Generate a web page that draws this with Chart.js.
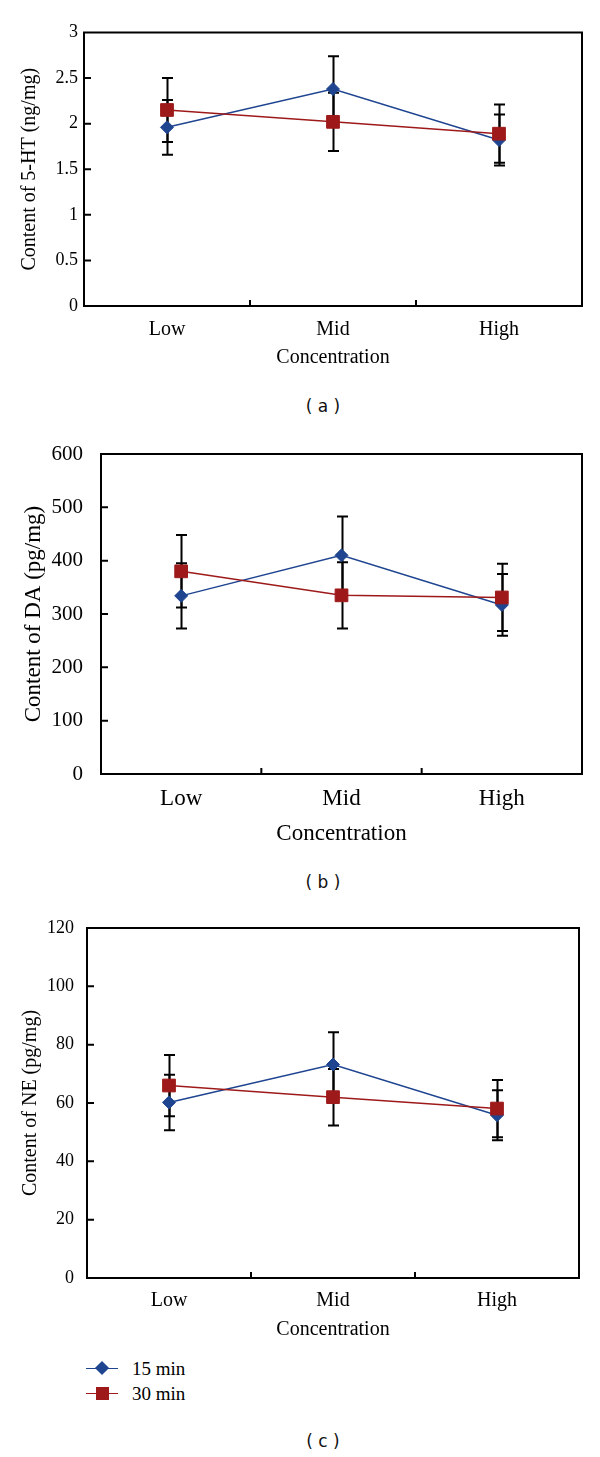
<!DOCTYPE html>
<html>
<head>
<meta charset="utf-8">
<script src="https://cdn.jsdelivr.net/npm/chart.js@4.4.0/dist/chart.umd.min.js"></script>
<style>
  body { margin: 0; background: #fff; }
  #page { position: relative; width: 600px; height: 1457px; background: #fff; }
  canvas { position: absolute; left: 0; }
  .cap { position: absolute; left: 0; width: 646px; text-align: center; font-family: "DejaVu Sans", sans-serif; font-size: 17px; color: #111; line-height: 20px; }
  .leg { position: absolute; left: 86px; height: 20px; font-family: "Liberation Serif", serif; font-size: 19px; line-height: 20px; color: #000; }
  .leg .ln { position: absolute; left: 0; top: 9px; width: 32px; height: 0; border-top: 1.5px solid; }
  .leg .mk { position: absolute; }
  .leg .tx { position: absolute; left: 46px; top: 0; white-space: nowrap; }
</style>
</head>
<body>
<div id="page">
  <canvas id="chartA" width="600" height="380" style="top:0px"></canvas>
  <div class="cap" style="top:396px">( a )</div>
  <canvas id="chartB" width="600" height="440" style="top:420px"></canvas>
  <div class="cap" style="top:872px">( b )</div>
  <canvas id="chartC" width="600" height="470" style="top:880px"></canvas>
  <div id="legend"></div>
  <div class="cap" style="top:1431px">( c )</div>
</div>
<script>
const categories = ['Low', 'Mid', 'High']
const series = ['15 min', '30 min']

// (a) 5-HT, ng/mg
const ht15 = [1.96, 2.38, 1.82]
const ht15Err = [0.30, 0.36, 0.28]
const ht30 = [2.15, 2.02, 1.89]
const ht30Err = [0.35, 0.32, 0.32]
const htTicks = [0, 0.5, 1, 1.5, 2, 2.5, 3]

// (b) DA, pg/mg
const da15 = [334, 410, 317]
const da15Err = [61, 73, 58]
const da30 = [380, 335, 331]
const da30Err = [68, 62, 63]
const daTicks = [0, 100, 200, 300, 400, 500, 600]

// (c) NE, pg/mg
const ne15 = [60.2, 73.2, 55.8]
const ne15Err = [9.5, 11.1, 8.6]
const ne30 = [66.0, 62.0, 58.1]
const ne30Err = [10.5, 9.7, 9.8]
const neTicks = [0, 20, 40, 60, 80, 100, 120]

const BLUE = '#1f4590'
const RED = '#9e1a1a'
const SERIF = '"Liberation Serif", "Times New Roman", serif'

// error bars under the markers
const errorBars = {
  id: 'errorBars',
  beforeDatasetsDraw(chart) {
    const ctx = chart.ctx
    const xs = chart.scales.x
    const ys = chart.scales.y
    ctx.save()
    ctx.strokeStyle = '#000'
    ctx.lineWidth = 2
    chart.data.datasets.forEach(ds => {
      ds.data.forEach((v, i) => {
        const px = Math.round(xs.getPixelForValue(i)) + 0.5
        const top = ys.getPixelForValue(v + ds.errors[i])
        const bot = ys.getPixelForValue(v - ds.errors[i])
        ctx.beginPath()
        ctx.moveTo(px, top); ctx.lineTo(px, bot)
        ctx.moveTo(px - 5.5, top); ctx.lineTo(px + 5.5, top)
        ctx.moveTo(px - 5.5, bot); ctx.lineTo(px + 5.5, bot)
        ctx.stroke()
      })
    })
    ctx.restore()
  }
}

// box round the plot and short ticks pointing inward
const frame = {
  id: 'frame',
  afterDatasetsDraw(chart) {
    const ctx = chart.ctx
    const a = chart.chartArea
    const xs = chart.scales.x
    const ys = chart.scales.y
    ctx.save()
    ctx.strokeStyle = '#000'
    ctx.lineWidth = 2
    ctx.strokeRect(a.left, a.top, a.right - a.left, a.bottom - a.top)
    ctx.beginPath()
    ys.ticks.forEach(t => {
      const py = ys.getPixelForValue(t.value)
      if (py <= a.top + 1 || py >= a.bottom - 1) return
      ctx.moveTo(a.left, py); ctx.lineTo(a.left + 7, py)
    })
    for (let i = 0; i < categories.length - 1; i++) {
      const px = (xs.getPixelForValue(i) + xs.getPixelForValue(i + 1)) / 2
      ctx.moveTo(px, a.bottom); ctx.lineTo(px, a.bottom - 6)
    }
    ctx.stroke()
    ctx.restore()
  }
}

function makeChart(id, d15, e15, d30, e30, yTicks, yTitle, lay) {
  const ctx = document.getElementById(id)
  return new Chart(ctx, {
    type: 'line',
    data: {
      labels: categories,
      datasets: [{
        label: series[0],
        data: d15,
        errors: e15,
        borderColor: BLUE,
        backgroundColor: BLUE,
        borderWidth: 1.5,
        pointStyle: 'rectRot',
        pointRadius: 6.5,
        pointBorderWidth: 1,
        order: 1
      }, {
        label: series[1],
        data: d30,
        errors: e30,
        borderColor: RED,
        backgroundColor: RED,
        borderWidth: 1.5,
        pointStyle: 'rect',
        pointRadius: 9,
        pointBorderWidth: 1,
        order: 0
      }]
    },
    options: {
      responsive: false,
      animation: false,
      layout: { padding: { top: lay.top, right: lay.right, bottom: 0, left: 0 } },
      plugins: { legend: { display: false }, tooltip: { enabled: false } },
      scales: {
        x: {
          offset: true,
          grid: { display: false, drawTicks: false },
          border: { display: false },
          ticks: { color: '#000', padding: lay.xPad, font: { family: SERIF, size: lay.label } },
          title: { display: true, text: 'Concentration', color: '#000', padding: { top: 0, bottom: lay.xTitle }, font: { family: SERIF, size: lay.label } },
          afterFit: s => { s.height = lay.xHeight }
        },
        y: {
          min: yTicks[0],
          max: yTicks[yTicks.length - 1],
          afterBuildTicks: s => { s.ticks = yTicks.map(v => ({ value: v })) },
          grid: { display: false, drawTicks: false },
          border: { display: false },
          ticks: { color: '#000', padding: lay.yPad, font: { family: SERIF, size: lay.tick }, callback: v => String(v) },
          title: { display: true, text: yTitle, color: '#000', padding: { top: lay.yTitle, bottom: 0 }, font: { family: SERIF, size: lay.label } },
          afterFit: s => { s.width = lay.left }
        }
      }
    },
    plugins: [errorBars, frame]
  })
}

makeChart('chartA', ht15, ht15Err, ht30, ht30Err, htTicks, 'Content of 5-HT (ng/mg)',
  { top: 32.5, right: 18, left: 84, yPad: 6, yTitle: 18, xHeight: 74, xPad: 11.5, xTitle: 10.5, tick: 18, label: 20 })

makeChart('chartB', da15, da15Err, da30, da30Err, daTicks, 'Content of DA (pg/mg)',
  { top: 34, right: 18, left: 101, yPad: 18, yTitle: 20, xHeight: 86, xPad: 11, xTitle: 12, tick: 21, label: 23 })

makeChart('chartC', ne15, ne15Err, ne30, ne30Err, neTicks, 'Content of NE (pg/mg)',
  { top: 48, right: 21, left: 87, yPad: 13, yTitle: 19, xHeight: 72, xPad: 10.5, xTitle: 8.5, tick: 18, label: 20 })

// legend under panel (c)
const legend = document.getElementById('legend')
const legColors = [BLUE, RED]
series.forEach((name, i) => {
  const row = document.createElement('div')
  row.className = 'leg'
  row.style.top = (1359 + i * 25) + 'px'
  const mk = i == 0
    ? '<div class="mk" style="left:11px;top:4px;width:10px;height:10px;background:' + BLUE + ';transform:rotate(45deg)"></div>'
    : '<div class="mk" style="left:9.5px;top:3px;width:13px;height:13px;background:' + RED + '"></div>'
  row.innerHTML = '<div class="ln" style="border-color:' + legColors[i] + '"></div>' + mk + '<span class="tx">' + name + '</span>'
  legend.appendChild(row)
})
</script>
</body>
</html>
